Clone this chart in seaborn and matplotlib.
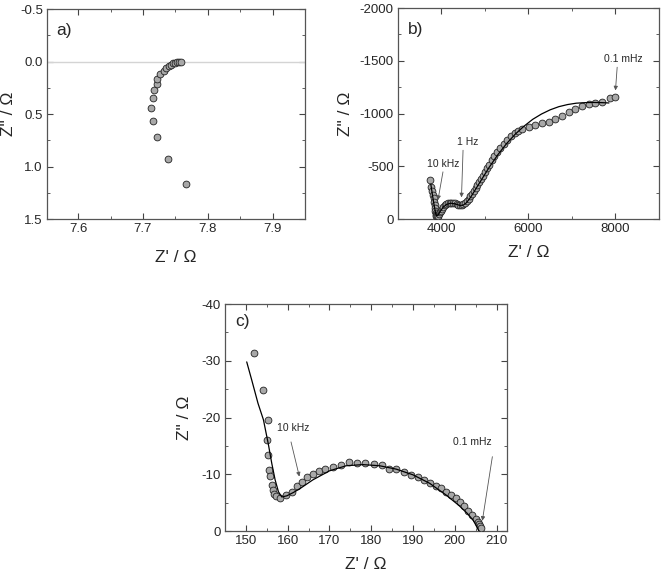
import matplotlib
matplotlib.use("Agg")
import matplotlib.pyplot as plt
from matplotlib.ticker import MultipleLocator
import seaborn as sns
import pandas as pd

# Datos del panel a)
a_zre = [7.767, 7.739, 7.7215, 7.716, 7.712, 7.715, 7.717, 7.721, 7.721, 7.727,
         7.732, 7.736, 7.740, 7.744, 7.747, 7.750, 7.753, 7.755, 7.759]
a_zim = [1.166, 0.924, 0.723, 0.570, 0.446, 0.347, 0.271, 0.213, 0.166, 0.118,
         0.086, 0.060, 0.041, 0.029, 0.016, 0.010, 0.005, 0.002, 0.0]

# Datos del panel b)
b_zre = [3740, 3760, 3790, 3810, 3825, 3840, 3850, 3858, 3865, 3872, 3880, 3890, 3905, 3920,
         3940, 3960, 3985, 4010, 4040, 4075, 4110, 4150, 4190, 4230, 4270, 4310, 4350, 4390,
         4430, 4470, 4510, 4550, 4590, 4630, 4670, 4710, 4750, 4790, 4830, 4870, 4910, 4950,
         5000, 5050, 5100, 5160, 5220, 5290, 5360, 5440, 5520, 5600, 5690, 5760, 5855,
         6008, 6160, 6313, 6466, 6618, 6771, 6924, 7076, 7229, 7382, 7534, 7687, 7878, 7992]
b_zim = [-370, -300, -270, -230, -195, -160, -130, -105, -80, -60, -42, -30, -25, -30,
         -45, -62, -80, -98, -115, -130, -142, -150, -155, -156, -154, -148, -142, -137,
         -134, -135, -142, -155, -172, -192, -215, -240, -267, -295, -323, -352, -380, -410,
         -445, -480, -515, -555, -595, -635, -675, -715, -752, -785, -815, -832, -850,
         -871, -893, -909, -918, -950, -981, -1013, -1044, -1069, -1091, -1104, -1113, -1148, -1154]
b_fit_zre = [3760, 3800, 3840, 3870, 3895, 3930, 3980, 4050, 4130, 4220, 4320, 4420, 4500,
             4580, 4680, 4800, 4950, 5100, 5300, 5500, 5700, 5900, 6100, 6300, 6500, 6700,
             6900, 7100, 7300, 7500, 7700, 7850]
b_fit_zim = [-330, -220, -120, -55, -30, -40, -75, -115, -140, -150, -143, -130, -130,
             -155, -210, -290, -390, -490, -610, -715, -805, -880, -945, -995, -1035, -1065,
             -1085, -1098, -1103, -1105, -1103, -1100]

# Datos del panel c)
c_zre = [151.9, 154.2, 155.2, 155.0, 155.4, 155.6, 155.8, 156.2, 156.6, 156.8, 157.2, 158.2,
         159.6, 161.0, 162.2, 163.4, 164.7, 166.0, 167.4, 169.0, 170.8, 172.7, 174.8, 176.6,
         178.6, 180.6, 182.6, 184.3, 186.0, 187.9, 189.5, 191.1, 192.6, 194.0, 195.4, 196.7,
         198.0, 199.1, 200.2, 201.2, 202.2, 203.2, 204.2, 205.0, 205.5, 205.8, 206.0, 206.2]
c_zim = [-31.4, -24.8, -19.5, -16.0, -13.4, -10.7, -9.7, -8.1, -7.2, -6.6, -6.2, -5.9,
         -6.3, -6.9, -7.9, -8.7, -9.5, -10.0, -10.6, -10.9, -11.3, -11.7, -12.1, -11.9,
         -12.0, -11.8, -11.6, -11.0, -10.9, -10.4, -9.9, -9.5, -9.0, -8.5, -7.9, -7.5,
         -6.9, -6.3, -5.8, -5.1, -4.4, -3.6, -2.8, -2.1, -1.6, -1.2, -0.9, -0.6]
c_fit_zre = [150.2, 151.4, 152.9, 154.2, 155.4, 156.2, 157.0, 157.8, 158.6, 159.8, 161.4,
             163.0, 166.0, 170.0, 174.0, 178.0, 182.0, 186.0, 190.0, 194.0, 198.0, 201.0,
             203.0, 204.5, 205.8]
c_fit_zim = [-29.8, -26.6, -22.5, -19.6, -15.2, -11.9, -9.0, -6.9, -6.0, -6.2, -6.8,
             -7.5, -9.0, -10.6, -11.5, -11.7, -11.5, -10.9, -9.9, -8.4, -6.3, -4.5,
             -3.1, -1.8, 0.0]

sns.set_style("ticks")
plt.rcParams['font.family'] = ['Liberation Sans', 'DejaVu Sans']
plt.rcParams['axes.unicode_minus'] = False

fig = plt.figure(figsize=(6.61, 5.78), dpi=100)
ax_a = fig.add_axes([0.0711, 0.6211, 0.3903, 0.3633])
ax_b = fig.add_axes([0.6017, 0.6211, 0.3953, 0.3650])
ax_c = fig.add_axes([0.3404, 0.0813, 0.4266, 0.3927])

mk = dict(color="#a8a8a8", edgecolor="#222222", linewidth=0.6, s=24, zorder=3)


def estilo(ax, xmaj, xmin, ymaj, ymin, xl, yl):
    ax.xaxis.set_major_locator(MultipleLocator(xmaj))
    ax.xaxis.set_minor_locator(MultipleLocator(xmin))
    ax.yaxis.set_major_locator(MultipleLocator(ymaj))
    ax.yaxis.set_minor_locator(MultipleLocator(ymin))
    ax.tick_params(which="both", direction="in", top=True, right=True,
                   color="#444444", labelsize=9.5, pad=3)
    ax.tick_params(which="major", length=4, width=0.8)
    ax.tick_params(which="minor", length=2, width=0.6)
    for s in ax.spines.values():
        s.set_color("#555555")
        s.set_linewidth(0.9)
    ax.set_xlabel("Z' / Ω", fontsize=12.5)
    ax.set_ylabel('Z" / Ω', fontsize=12.5)
    ax.xaxis.set_label_coords(0.5, xl)
    ax.yaxis.set_label_coords(yl, 0.5)


def flecha(ax, xy, xytext):
    ax.annotate("", xy=xy, xytext=xytext,
                arrowprops=dict(arrowstyle="-|>", color="#555555", lw=0.6,
                                mutation_scale=6, shrinkA=0, shrinkB=0))


# a)
ax_a.axhline(0, color="#d4d4d4", lw=1.0, zorder=1)
sns.scatterplot(x=a_zre, y=a_zim, ax=ax_a, **mk)
ax_a.set_xlim(7.552, 7.95)
ax_a.set_ylim(1.5, -0.5)
estilo(ax_a, 0.1, 0.05, 0.5, 0.25, -0.148, -0.122)
ax_a.text(0.035, 0.935, "a)", transform=ax_a.transAxes, fontsize=12.5, va="top")

# b)
df_b = pd.DataFrame({"zre": b_fit_zre, "zim": b_fit_zim})
sns.scatterplot(x=b_zre, y=b_zim, ax=ax_b, **mk)
sns.lineplot(data=df_b, x="zre", y="zim", sort=False, ax=ax_b, color="black", lw=0.9, zorder=4)
ax_b.set_xlim(3000, 9000)
ax_b.set_ylim(0, -2000)
estilo(ax_b, 2000, 1000, 500, 250, -0.123, -0.172)
ax_b.text(0.04, 0.935, "b)", transform=ax_b.transAxes, fontsize=12.5, va="top")
ax_b.text(4050, -475, "10 kHz", fontsize=7.5, ha="center", va="bottom")
flecha(ax_b, (3924, -180), (4039, -447))
ax_b.text(4616, -680, "1 Hz", fontsize=7.5, ha="center", va="bottom")
flecha(ax_b, (4464, -205), (4500, -652))
ax_b.text(8191, -1465, "0.1 mHz", fontsize=7.5, ha="center", va="bottom")
flecha(ax_b, (8000, -1219), (8039, -1439))

# c)
df_c = pd.DataFrame({"zre": c_fit_zre, "zim": c_fit_zim})
sns.scatterplot(x=c_zre, y=c_zim, ax=ax_c, **mk)
sns.lineplot(data=df_c, x="zre", y="zim", sort=False, ax=ax_c, color="black", lw=0.9, zorder=4)
ax_c.set_xlim(145, 212.5)
ax_c.set_ylim(0, -40)
estilo(ax_c, 10, 5, 10, 5, -0.115, -0.117)
ax_c.text(0.035, 0.955, "c)", transform=ax_c.transAxes, fontsize=12.5, va="top")
ax_c.text(161.4, -17.2, "10 kHz", fontsize=7.5, ha="center", va="bottom")
flecha(ax_c, (162.8, -9.6), (160.8, -15.7))
ax_c.text(204.3, -14.8, "0.1 mHz", fontsize=7.5, ha="center", va="bottom")
flecha(ax_c, (206.6, -1.8), (209.0, -13.1))

fig.savefig("out.png", dpi=100)
